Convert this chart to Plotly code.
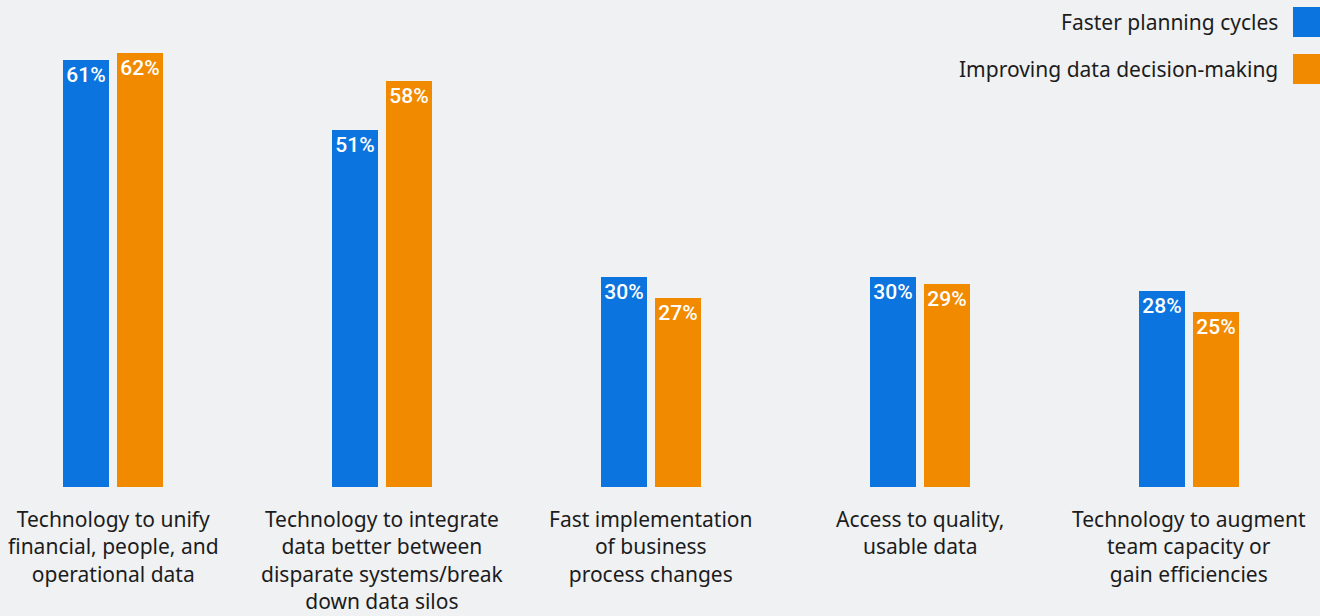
import plotly.graph_objects as go

categories = [
    "Technology to unify<br>financial, people, and<br>operational data",
    "Technology to integrate<br>data better between<br>disparate systems/break<br>down data silos",
    "Fast implementation<br>of business<br>process changes",
    "Access to quality,<br>usable data",
    "Technology to augment<br>team capacity or<br>gain efficiencies",
]
series_names = ["Faster planning cycles", "Improving data decision-making"]
faster_planning = [61, 51, 30, 30, 28]
data_decisions = [62, 58, 27, 29, 25]
series_values = [faster_planning, data_decisions]
colors = ["#0b74de", "#f28a00"]

BG = "#f0f1f3"
TEXT = "#1c1c1c"
FONT = "Noto Sans"

W, H = 1320, 616
PX_PER_CAT = 269.0
FIRST_CENTER = 113.0
BASE_Y = 487
PX_PER_PCT = 7.0

x_idx = list(range(len(categories)))
bar_w = 46 / PX_PER_CAT
offsets = [-50 / PX_PER_CAT, 4 / PX_PER_CAT]

fig = go.Figure()
for name, vals, col, off in zip(series_names, series_values, colors, offsets):
    fig.add_trace(go.Bar(
        x=x_idx, y=vals, name=name,
        marker=dict(color=col, line=dict(width=0)),
        width=bar_w, offset=off,
        text=[f"{v}%" for v in vals],
        textposition="inside", insidetextanchor="end",
        constraintext="none", cliponaxis=False,
        textfont=dict(family="Roboto", size=21, color="white", weight=500),
        showlegend=False,
    ))

# category labels beneath each group
for i, lab in enumerate(categories):
    fig.add_annotation(
        x=i, y=0, xref="x", yref="y", text=lab, showarrow=False,
        yanchor="top", xanchor="center", yshift=-17, align="center",
        borderpad=0,
        font=dict(family=FONT, size=21, color=TEXT),
    )

# legend on the right with swatches after the text
legend_rows = [22, 69]
for name, col, yc in zip(series_names, colors, legend_rows):
    fig.add_annotation(
        x=1280, y=H - yc, xref="paper", yref="paper", text=name,
        showarrow=False, xanchor="right", yanchor="middle",
        font=dict(family=FONT, size=21, color=TEXT),
    )
    fig.add_shape(
        type="rect", xref="paper", yref="paper",
        x0=1293, x1=1320, y0=H - yc - 15, y1=H - yc + 15,
        fillcolor=col, line=dict(width=0),
    )

fig.update_layout(
    width=W, height=H,
    margin=dict(l=0, r=0, t=0, b=H - BASE_Y),
    paper_bgcolor=BG, plot_bgcolor=BG,
    barmode="overlay",
    xaxis=dict(range=[-FIRST_CENTER / PX_PER_CAT, (W - FIRST_CENTER) / PX_PER_CAT],
               visible=False, fixedrange=True),
    yaxis=dict(range=[0, BASE_Y / PX_PER_PCT], visible=False, fixedrange=True),
)

# legend pieces are placed in pixels, converted here to paper space
for a in fig.layout.annotations:
    if a.xref == "paper":
        a.x = a.x / W
        a.y = (a.y - (H - BASE_Y)) / BASE_Y
for s in fig.layout.shapes:
    s.x0 = s.x0 / W
    s.x1 = s.x1 / W
    s.y0 = (s.y0 - (H - BASE_Y)) / BASE_Y
    s.y1 = (s.y1 - (H - BASE_Y)) / BASE_Y

fig.write_html("out.html", config={"displayModeBar": False})
